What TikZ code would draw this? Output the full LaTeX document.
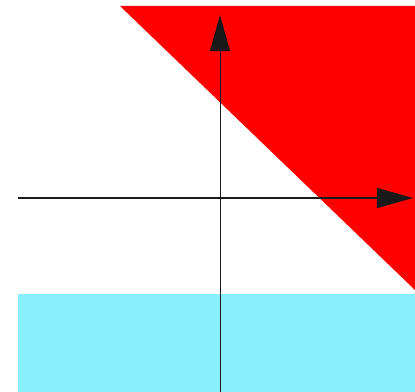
\documentclass[tikz,border=0pt]{standalone}
\usetikzlibrary{arrows.meta}
\definecolor{lightcyan}{RGB}{135,240,252}
\begin{document}
\begin{tikzpicture}[x=0.025cm, y=-0.025cm, >={Triangle[length=0.9cm, width=0.5cm]}]
  \useasboundingbox (0,0) rectangle (415,392);
  % regions
  \fill[red] (120,6) -- (415,6) -- (415,290) -- cycle;
  \fill[lightcyan] (18,294) rectangle (415,392);
  % axes
  \coordinate (xstart) at (18,198);
  \coordinate (xend) at (413,198);
  \coordinate (ystart) at (220,392);
  \coordinate (yend) at (220,15);
  \draw[->, line width=1pt, black!90] (xstart) -- (xend);
  \draw[->, line width=0.6pt, black!90] (ystart) -- (yend);
\end{tikzpicture}
\end{document}
